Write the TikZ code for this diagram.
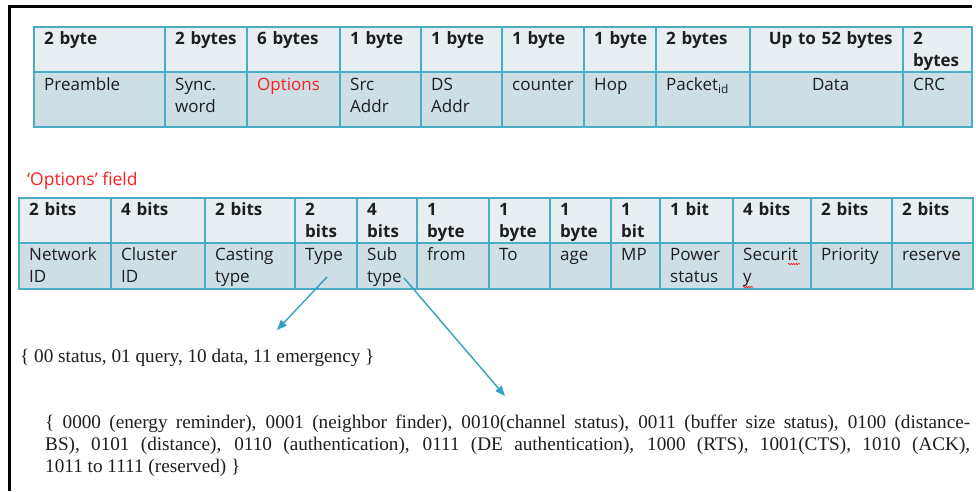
\documentclass[tikz,border=0pt]{standalone}
\usepackage{fontspec}
\setmainfont{Liberation Serif}
\newfontfamily\tabfont{Open Sans}
\usetikzlibrary{arrows.meta,calc,decorations.pathmorphing}
\definecolor{tblue}{HTML}{4BACC6}
\definecolor{hfill}{HTML}{E7EFF3}
\definecolor{bfill}{HTML}{CDDEE5}
\definecolor{arrowc}{HTML}{34A0C5}
\definecolor{optred}{HTML}{FF1E1E}
\definecolor{ink}{HTML}{1E1E1E}
\tikzset{
  cellbox/.style={draw=tblue, line width=1.6pt, inner sep=0pt, outer sep=0pt, anchor=north west},
  hcell/.style={cellbox, fill=hfill},
  bcell/.style={cellbox, fill=bfill},
  ctext/.style={inner sep=0pt, anchor=base west, align=left, text=ink,
    font=\tabfont\fontsize{17}{22}\selectfont},
  htext/.style={ctext, font=\tabfont\bfseries\fontsize{17}{22}\selectfont},
  ctr/.style={align=center},
  conn/.style={draw=arrowc, line width=1.4pt, -{Triangle[length=10pt,width=8pt]}},
  frameline/.style={line width=2.6pt, black},
  serif/.style={inner sep=0pt, anchor=base west, text=ink, font=\fontsize{19.2}{22}\selectfont},
  lbl/.style={inner sep=0pt, anchor=base west, text=optred, font=\tabfont\fontsize{17.5}{20}\selectfont},
  spell/.style={red, line width=0.6pt, decorate, decoration={snake, amplitude=0.6pt, segment length=2.5pt}}
}
% name, x1, x2, y1, y2, box style, baseline offset, text style, text
\newcommand\tcell[9]{%
  \node[#6, minimum width={#3-#2}, minimum height={#5-#4}] (#1) at (#2,#4) {};
  \node[#8, text width={#3-#2-12}] (#1t) at ($(#1.north west)+(10,#7)$) {#9};
}
\begin{document}
\begin{tikzpicture}[x=1pt,y=-1pt]
\useasboundingbox (0,0) rectangle (976,491);
\fill[white] (0,0) rectangle (976,491);
\draw[frameline] (9.3,491) -- (9.3,6.3) -- (972,6.3);

% ---------- Table 1 ----------
\tcell{pa}{34}{165}{27}{72}{hcell}{17}{htext}{2 byte}
\tcell{pb}{165}{247}{27}{72}{hcell}{17}{htext}{2 bytes}
\tcell{pc}{247}{340}{27}{72}{hcell}{17}{htext}{6 bytes}
\tcell{pd}{340}{421}{27}{72}{hcell}{17}{htext}{1 byte}
\tcell{pe}{421}{502}{27}{72}{hcell}{17}{htext}{1 byte}
\tcell{pf}{502}{584}{27}{72}{hcell}{17}{htext}{1 byte}
\tcell{pg}{584}{656}{27}{72}{hcell}{17}{htext}{1 byte}
\tcell{ph}{656}{750}{27}{72}{hcell}{17}{htext}{2 bytes}
\tcell{pi}{750}{903}{27}{72}{hcell}{17}{htext,ctr}{Up to 52 bytes}
\tcell{pj}{903}{972}{27}{72}{hcell}{17}{htext}{2\\bytes}

\tcell{qa}{34}{165}{72}{127}{bcell}{18}{ctext}{Preamble}
\tcell{qb}{165}{247}{72}{127}{bcell}{18}{ctext}{Sync.\\word}
\tcell{qc}{247}{340}{72}{127}{bcell}{18}{ctext,text=optred}{Options}
\tcell{qd}{340}{421}{72}{127}{bcell}{18}{ctext}{Src\\Addr}
\tcell{qe}{421}{502}{72}{127}{bcell}{18}{ctext}{DS\\Addr}
\tcell{qf}{502}{584}{72}{127}{bcell}{18}{ctext}{counter}
\tcell{qg}{584}{656}{72}{127}{bcell}{18}{ctext}{Hop}
\tcell{qh}{656}{750}{72}{127}{bcell}{18}{ctext}{Packet\textsubscript{id}}
\tcell{qi}{750}{903}{72}{127}{bcell}{18}{ctext,ctr}{Data}
\tcell{qj}{903}{972}{72}{127}{bcell}{18}{ctext}{CRC}

% ---------- label ----------
\node[lbl] (optlabel) at (27,185) {‘Options’ field};

% ---------- Table 2 ----------
\tcell{ra}{19}{111}{198}{243}{hcell}{17}{htext}{2 bits}
\tcell{rb}{111}{205}{198}{243}{hcell}{17}{htext}{4 bits}
\tcell{rc}{205}{295}{198}{243}{hcell}{17}{htext}{2 bits}
\tcell{rd}{295}{357}{198}{243}{hcell}{17}{htext}{2\\bits}
\tcell{re}{357}{417}{198}{243}{hcell}{17}{htext}{4\\bits}
\tcell{rf}{417}{489}{198}{243}{hcell}{17}{htext}{1\\byte}
\tcell{rg}{489}{550}{198}{243}{hcell}{17}{htext}{1\\byte}
\tcell{rh}{550}{611}{198}{243}{hcell}{17}{htext}{1\\byte}
\tcell{ri}{611}{660}{198}{243}{hcell}{17}{htext}{1\\bit}
\tcell{rj}{660}{733}{198}{243}{hcell}{17}{htext}{1 bit}
\tcell{rk}{733}{811}{198}{243}{hcell}{17}{htext}{4 bits}
\tcell{rl}{811}{892}{198}{243}{hcell}{17}{htext}{2 bits}
\tcell{rm}{892}{973}{198}{243}{hcell}{17}{htext}{2 bits}

\tcell{sa}{19}{111}{243}{289}{bcell}{17}{ctext}{Network\\ID}
\tcell{sb}{111}{205}{243}{289}{bcell}{17}{ctext}{Cluster\\ID}
\tcell{sc}{205}{295}{243}{289}{bcell}{17}{ctext}{Casting\\type}
\tcell{sd}{295}{357}{243}{289}{bcell}{17}{ctext}{Type}
\tcell{se}{357}{417}{243}{289}{bcell}{17}{ctext}{Sub\\type}
\tcell{sf}{417}{489}{243}{289}{bcell}{17}{ctext}{from}
\tcell{sg}{489}{550}{243}{289}{bcell}{17}{ctext}{To}
\tcell{sh}{550}{611}{243}{289}{bcell}{17}{ctext}{age}
\tcell{si}{611}{660}{243}{289}{bcell}{17}{ctext}{MP}
\tcell{sj}{660}{733}{243}{289}{bcell}{17}{ctext}{Power\\status}
\tcell{sk}{733}{811}{243}{289}{bcell}{17}{ctext}{Securit\\y}
\tcell{sl}{811}{892}{243}{289}{bcell}{17}{ctext}{Priority}
\tcell{sm}{892}{973}{243}{289}{bcell}{17}{ctext}{reserve}

% spell-check marks
\draw[spell] (788,264) -- (800,264);
\draw[spell] (743,287) -- (753,287);

% ---------- value lists ----------
\node[serif] (typelist) at (20,362) {\{ 00 status, 01 query, 10 data, 11 emergency \}};
\node[serif, text width=925pt, align=justify] (sublist) at (45,428)
  {\{ 0000 (energy reminder), 0001 (neighbor finder), 0010(channel status), 0011 (buffer size status), 0100 (distance-\linebreak
   BS), 0101 (distance), 0110 (authentication), 0111 (DE authentication), 1000 (RTS), 1001(CTS), 1010 (ACK),\linebreak
   1011 to 1111 (reserved) \}};

% ---------- connectors ----------
\coordinate (a1s) at ($(sd.center)+(1,11)$);
\coordinate (a1e) at (277,330);
\coordinate (a2s) at ($(se.center)+(17,12)$);
\coordinate (a2e) at (505,396);
\draw[conn] (a1s) -- (a1e);
\draw[conn] (a2s) -- (a2e);
\end{tikzpicture}
\end{document}
